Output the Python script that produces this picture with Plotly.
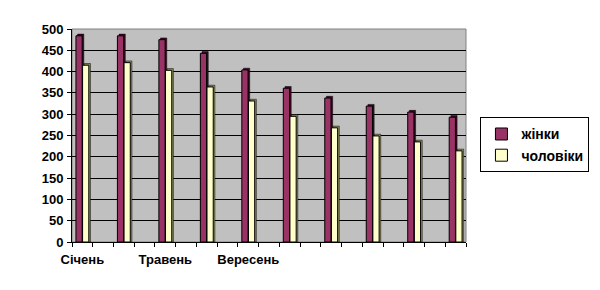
import plotly.graph_objects as go

months = ["Січень", "Березень", "Травень", "Липень", "Вересень",
          "Листопад", "Січень", "Березень", "Травень", "Липень"]
label_idx = [0, 2, 4]
women = [484, 484, 475, 443, 404, 361, 338, 319, 305, 293]
men = [415, 421, 403, 364, 331, 295, 268, 249, 235, 214]
series_names = ["жінки", "чоловіки"]

x = list(range(len(months)))
W = 0.15
fig = go.Figure()

# pseudo-3D depth sides (drawn first)
for vals, off, col in [(women, -0.155, "#3a0a22"), (men, 0.005, "#8c8c5a")]:
    fig.add_trace(go.Bar(x=x, y=[v + 4 for v in vals], width=W, offset=off + 0.04,
                         marker=dict(color=col, line=dict(color="black", width=0.5)),
                         showlegend=False, hoverinfo="skip"))

for vals, off, col, name in [(women, -0.155, "#993366", series_names[0]),
                             (men, 0.005, "#ffffcc", series_names[1])]:
    fig.add_trace(go.Bar(x=x, y=vals, width=W, offset=off, name=name,
                         marker=dict(color=col, line=dict(color="black", width=1))))

font = dict(family="Liberation Sans", size=13, color="black", weight=700)

fig.update_layout(
    width=600, height=290,
    margin=dict(l=72, r=133, t=29, b=48),
    barmode="overlay",
    paper_bgcolor="white",
    plot_bgcolor="#c0c0c0",
    font=font,
    legend=dict(x=1.31, y=0.585, xanchor="right", yanchor="top",
                bordercolor="black", borderwidth=1, bgcolor="white",
                font=dict(family="Liberation Sans", size=14, color="black", weight=700),
                itemwidth=30),
    xaxis=dict(range=[-0.25, 9.25], tickvals=label_idx,
               ticktext=[months[i] for i in label_idx],
               ticks="", showgrid=False, zeroline=False,
               showline=True, linecolor="black", linewidth=1,
               ticklabelstandoff=5,
               tickfont=dict(family="Liberation Sans", size=13, color="black", weight=700),
               minor=dict(tick0=-0.25, dtick=0.5, ticks="outside", ticklen=4,
                          tickcolor="black", showgrid=False)),
    yaxis=dict(range=[0, 500], dtick=50, showgrid=True, gridcolor="black", gridwidth=1,
               zeroline=False, showline=True, linecolor="black", linewidth=1,
               tickfont=dict(family="Liberation Sans", size=13, color="black", weight=700),
               ticks="outside", ticklen=4, tickcolor="black", ticklabelstandoff=1),
    shapes=[dict(type="rect", xref="paper", yref="paper", x0=0, x1=1, y0=0, y1=1,
                 line=dict(color="#808080", width=1), layer="below")],
)

fig.write_html("out.html")
